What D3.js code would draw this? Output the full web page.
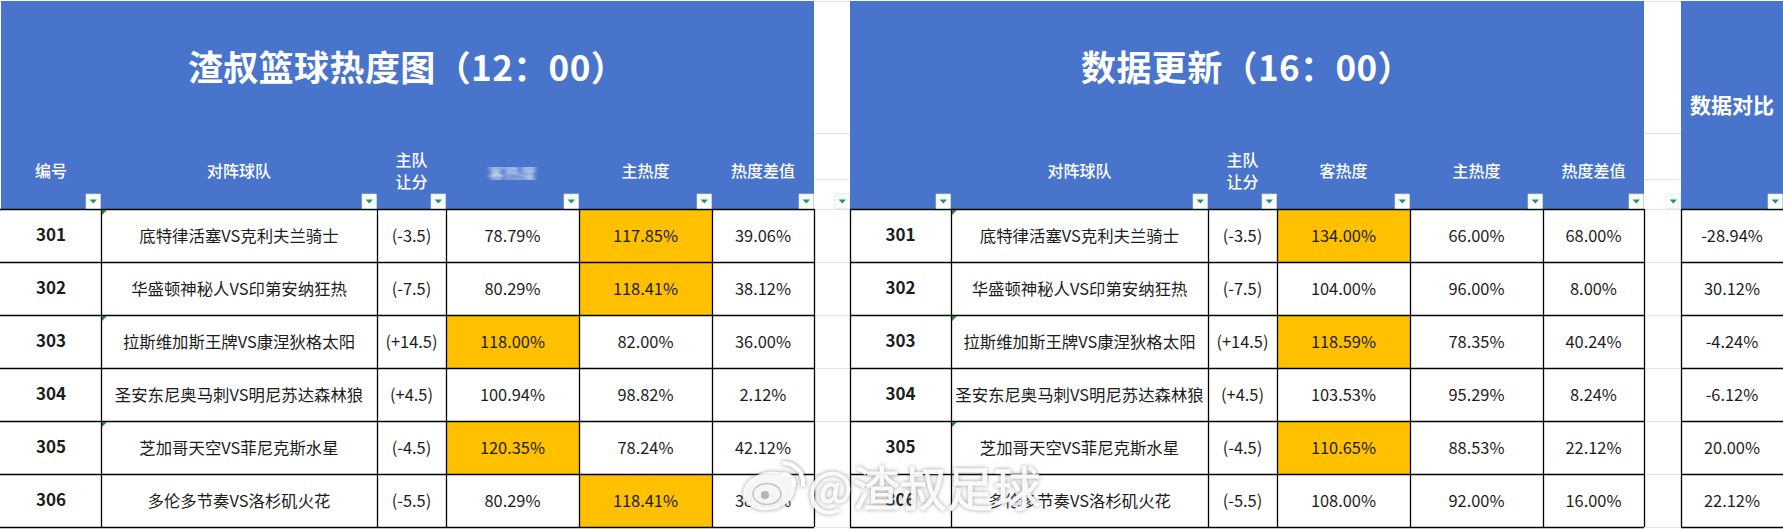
<!DOCTYPE html>
<html>
<head>
<meta charset="utf-8">
<script src="https://cdn.jsdelivr.net/npm/d3@7"></script>
<style>
	html, body { margin: 0; padding: 0; background: #fff; }
	svg { display: block; }
	text { font-family: "Noto Sans CJK SC", "Noto Sans", sans-serif; text-spacing-trim: space-all; }
</style>
</head>
<body>
<div id="chart"></div>
<script>
var gameIds = ["301", "302", "303", "304", "305", "306"];
var games = ["底特律活塞VS克利夫兰骑士", "华盛顿神秘人VS印第安纳狂热", "拉斯维加斯王牌VS康涅狄格太阳",
	"圣安东尼奥马刺VS明尼苏达森林狼", "芝加哥天空VS菲尼克斯水星", "多伦多节奏VS洛杉矶火花"];
var spreads = ["(-3.5)", "(-7.5)", "(+14.5)", "(+4.5)", "(-4.5)", "(-5.5)"];
var commentRows = ["301", "303", "305"];

// 12:00 numbers
var awayNoon = [78.79, 80.29, 118.00, 100.94, 120.35, 80.29];
var homeNoon = [117.85, 118.41, 82.00, 98.82, 78.24, 118.41];
var diffNoon = [39.06, 38.12, 36.00, 2.12, 42.12, 38.12];

// 16:00 numbers
var awayLate = [134.00, 104.00, 118.59, 103.53, 110.65, 108.00];
var homeLate = [66.00, 96.00, 78.35, 95.29, 88.53, 92.00];
var diffLate = [68.00, 8.00, 40.24, 8.24, 22.12, 16.00];

var compare = [-28.94, 30.12, -4.24, -6.12, 20.00, 22.12];

var headers = ["编号", "对阵球队", "主队|让分", "客热度", "主热度", "热度差值"];
var titleNoon = "渣叔篮球热度图（12：00）";
var titleLate = "数据更新（16：00）";
var titleCompare = "数据对比";
var watermark = "@渣叔足球";

var width = 1783, height = 529;
var headerBottom = 209, tableBottom = 527;
var blue = "#4874cb", amber = "#ffc000", ink = "#1c1c1c";
var pct = function(v) { return v.toFixed(2) + "%"; };

var svg = d3.select("#chart").append("svg")
	.attr("width", width)
	.attr("height", height);

var defs = svg.append("defs");
defs.append("filter").attr("id", "smudge")
	.attr("x", "-20%").attr("y", "-60%").attr("width", "140%").attr("height", "220%")
	.append("feGaussianBlur").attr("stdDeviation", "2.2 1.3");
var halo = defs.append("filter").attr("id", "halo")
	.attr("x", "-10%").attr("y", "-20%").attr("width", "120%").attr("height", "140%");
halo.append("feDropShadow").attr("dx", 0).attr("dy", 0).attr("stdDeviation", 2)
	.attr("flood-color", "#6a6a6a").attr("flood-opacity", 0.8);
defs.append("clipPath").attr("id", "smudgeClip").append("rect")
	.attr("x", 480).attr("y", 167).attr("width", 64).attr("height", 13);

var y = d3.scaleBand().domain(gameIds).range([headerBottom, tableBottom]);
var hot = d3.scaleThreshold().domain([110]).range(["#fff", amber]);

// pale sheet gridlines showing through the two gaps
var gaps = [[814, 850], [1644, 1681]];
gaps.forEach(function(gap) {
	svg.selectAll(null)
		.data([1, 133, 179, headerBottom].concat(gameIds.map(function(d) { return y(d) + y.bandwidth(); })))
		.enter().append("line")
		.attr("x1", gap[0]).attr("x2", gap[1])
		.attr("y1", function(d) { return d + 0.5; })
		.attr("y2", function(d) { return d + 0.5; })
		.attr("stroke", "#e4e4e4");
});

function filterButton(g, right) {
	g.append("rect")
		.attr("x", right - 15).attr("y", 194)
		.attr("width", 14.5).attr("height", 14.5)
		.attr("fill", "#fdfefe")
		.attr("stroke", "#d3e4e0").attr("stroke-width", 0.6);
	g.append("path")
		.attr("d", d3.line()([[right - 11.5, 199.5], [right - 4, 199.5], [right - 7.75, 203.5]]) + "Z")
		.attr("fill", "#1b9868");
}

// draws one block of the sheet: header band, rows, grid
function drawTable(cfg) {
	var g = svg.append("g");
	var x = d3.scaleOrdinal().domain(d3.range(cfg.edges.length)).range(cfg.edges);
	var nCols = cfg.columns.length;

	g.append("rect")
		.attr("x", x(0)).attr("y", 1)
		.attr("width", x(nCols) - x(0)).attr("height", headerBottom - 1)
		.attr("fill", blue);

	// title
	g.append("text")
		.attr("x", cfg.titleX).attr("y", cfg.titleY)
		.attr("text-anchor", "middle").attr("dominant-baseline", "central")
		.attr("font-size", cfg.titleSize).attr("font-weight", 700)
		.attr("letter-spacing", cfg.titleSpacing || 0)
		.attr("fill", "#fff")
		.text(cfg.title);

	cfg.columns.forEach(function(col, c) {
		var cx = (x(c) + x(c + 1)) / 2;

		// header label, "|" splits it in two lines
		if (col.head) {
			var lines = col.head.split("|");
			lines.forEach(function(line, i) {
				var t = g.append("text")
					.attr("x", cx)
					.attr("y", lines.length > 1 ? 159 + i * 22 : 169.5)
					.attr("text-anchor", "middle").attr("dominant-baseline", "central")
					.attr("font-size", 16).attr("font-weight", 500)
					.attr("fill", "#fff")
					.text(line);
				if (col.blurred) {
					t.attr("filter", "url(#smudge)").attr("y", 172).attr("opacity", 0.85);
					t.attr("clip-path", "url(#smudgeClip)");
				}
			});
		}

		// cells
		var cells = g.selectAll(null)
			.data(col.values.map(function(v, i) { return { id: gameIds[i], value: v }; }))
			.enter().append("g");

		if (col.heat) {
			cells.append("rect")
				.attr("x", x(c)).attr("y", function(d) { return y(d.id); })
				.attr("width", x(c + 1) - x(c)).attr("height", y.bandwidth())
				.attr("fill", function(d) { return hot(d.value); });
		}

		cells.append("text")
			.attr("x", cx)
			.attr("y", function(d) { return y(d.id) + y.bandwidth() / 2 + (col.bold ? -2 : -0.5); })
			.attr("text-anchor", "middle").attr("dominant-baseline", "central")
			.attr("font-size", col.bold ? 17 : 16.4)
			.attr("font-weight", col.bold ? 700 : 400)
			.attr("fill", ink)
			.text(function(d) { return col.format ? col.format(d.value) : d.value; });
	});

	// grid
	var rowLines = [headerBottom].concat(gameIds.map(function(d) { return y(d) + y.bandwidth(); }));
	g.selectAll(null).data(rowLines).enter().append("line")
		.attr("x1", x(0) - (cfg.firstRule ? 1 : 0)).attr("x2", x(nCols))
		.attr("y1", function(d) { return d + 0.5; })
		.attr("y2", function(d) { return d + 0.5; })
		.attr("stroke", "#000").attr("stroke-width", 1.3);
	g.selectAll(null).data(d3.range(cfg.firstRule, nCols + (cfg.noRightRule ? 0 : 1))).enter().append("line")
		.attr("x1", function(c) { return x(c) + 0.5; })
		.attr("x2", function(c) { return x(c) + 0.5; })
		.attr("y1", headerBottom).attr("y2", tableBottom)
		.attr("stroke", "#000").attr("stroke-width", 1.3);

	// little green comment corners
	if (cfg.corners) {
		g.selectAll(null).data(commentRows).enter().append("path")
			.attr("d", function(d) {
				var px = x(1) + 1, py = y(d) + 1;
				return d3.line()([[px, py], [px + 5, py], [px, py + 5]]) + "Z";
			})
			.attr("fill", "#2f7d32");
	}

	// filter buttons
	d3.range(1, nCols + 1).forEach(function(c) { filterButton(g, x(c)); });
}

drawTable({
	edges: [1, 101, 377, 446, 579, 712, 814],
	firstRule: 1,
	corners: true,
	title: titleNoon, titleX: 407, titleY: 65.5, titleSize: 35, titleSpacing: 0.4,
	columns: [
		{ head: headers[0], values: gameIds, bold: true },
		{ head: headers[1], values: games },
		{ head: headers[2], values: spreads },
		{ head: headers[3], values: awayNoon, format: pct, heat: true, blurred: true },
		{ head: headers[4], values: homeNoon, format: pct, heat: true },
		{ head: headers[5], values: diffNoon, format: pct }
	]
});

drawTable({
	edges: [850, 951, 1208, 1277, 1410, 1543, 1644],
	firstRule: 0,
	corners: true,
	title: titleLate, titleX: 1247, titleY: 65.5, titleSize: 35, titleSpacing: 0.4,
	columns: [
		{ values: gameIds, bold: true },
		{ head: headers[1], values: games },
		{ head: headers[2], values: spreads },
		{ head: headers[3], values: awayLate, format: pct, heat: true },
		{ head: headers[4], values: homeLate, format: pct, heat: true },
		{ head: headers[5], values: diffLate, format: pct }
	]
});

drawTable({
	edges: [1681, 1783],
	firstRule: 0,
	noRightRule: true,
	title: titleCompare, titleX: 1732, titleY: 103.5, titleSize: 21,
	columns: [
		{ values: compare, format: pct }
	]
});

// the two empty filter buttons over the gaps
gaps.forEach(function(gap) { filterButton(svg.append("g"), gap[1]); });

// weibo watermark on top of everything
var mark = svg.append("g").attr("filter", "url(#halo)");
mark.append("ellipse").attr("cx", 769).attr("cy", 491).attr("rx", 26).attr("ry", 19)
	.attr("transform", "rotate(-12 769 491)")
	.attr("fill", "#fff").attr("fill-opacity", 0.88);
mark.append("ellipse").attr("cx", 767).attr("cy", 494).attr("rx", 14).attr("ry", 10.5)
	.attr("fill", "none").attr("stroke", "#c4c4c4").attr("stroke-width", 1.5);
mark.append("circle").attr("cx", 765).attr("cy", 495).attr("r", 4).attr("fill", "#999").attr("fill-opacity", 0.7);
mark.append("path").attr("d", "M 783 474 A 10 10 0 0 1 794 486")
	.attr("fill", "none").attr("stroke", "#fff").attr("stroke-width", 3.5).attr("stroke-linecap", "round");
mark.append("path").attr("d", "M 784 463 A 20 20 0 0 1 803 485")
	.attr("fill", "none").attr("stroke", "#fff").attr("stroke-width", 4).attr("stroke-linecap", "round");
mark.append("text")
	.attr("x", 808).attr("y", 485.5)
	.attr("dominant-baseline", "central")
	.attr("font-size", 47)
	.attr("fill", "#fff").attr("fill-opacity", 0.88)
	.attr("stroke", "#fff").attr("stroke-opacity", 0.7).attr("stroke-width", 1)
	.text(watermark);
</script>
</body>
</html>
